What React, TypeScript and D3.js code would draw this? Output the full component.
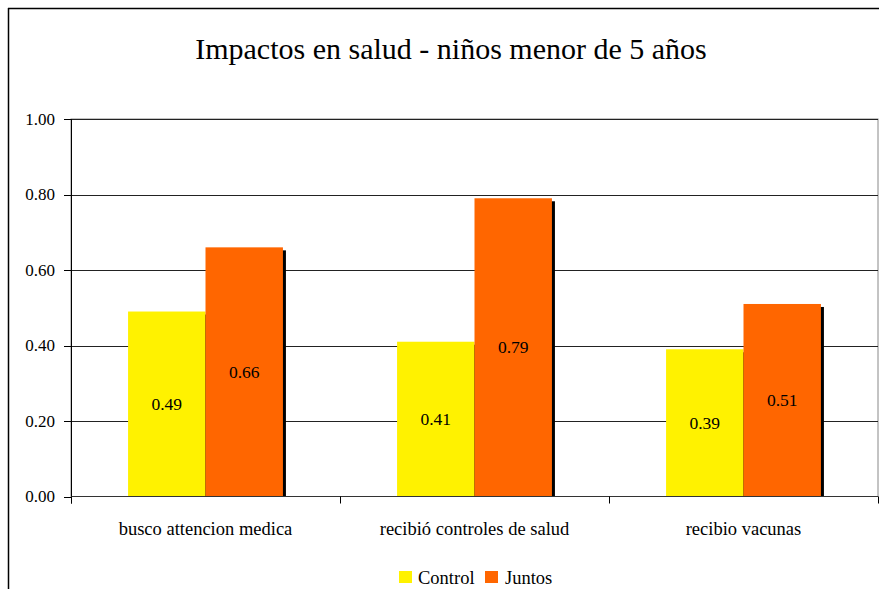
import React, { useEffect } from "react";
import * as d3 from "d3";

const categories = ["busco attencion medica", "recibió controles de salud", "recibio vacunas"];
const seriesNames = ["Control", "Juntos"];
const controlValues = [0.49, 0.41, 0.39];
const juntosValues = [0.66, 0.79, 0.51];
const yTicks = [0, 0.2, 0.4, 0.6, 0.8, 1.0];
const colors = ["#FFF200", "#FF6600"];

const W = 879;
const H = 589;
const FONT = "Liberation Serif";

export default function App() {
  useEffect(() => {
    document.body.style.overflow = "hidden";
  }, []);
  const left = 71, right = 878, top = 119, bottom = 496.5;
  const x0 = d3.scaleBand<string>().domain(categories).range([left, right]).paddingInner(0).paddingOuter(0);
  const bw = x0.bandwidth();
  const x1 = d3.scaleBand<string>().domain(seriesNames).range([0, bw]).paddingOuter(0.737).paddingInner(0);
  const y = d3.scaleLinear().domain([0, 1]).range([bottom, top]);
  const series = [controlValues, juntosValues];
  const ts = { fontFamily: FONT };

  return (
    <svg width={W} height={H} style={{ position: "absolute", left: 0, top: 0, background: "#fff", overflow: "hidden" }}>
      <line x1={8.5} x2={8.5} y1={8} y2={H} stroke="#000" strokeWidth={1.5} />
      <line x1={8} x2={W} y1={8.5} y2={8.5} stroke="#000" strokeWidth={1.5} />
      <text x={451} y={59} textAnchor="middle" style={ts} fontSize={30} fill="#000">
        Impactos en salud - niños menor de 5 años
      </text>
      <rect x={left} y={top} width={right - left} height={bottom - top} fill="none" stroke="#888" strokeWidth={1} />
      {yTicks.map((t) => (
        <g key={t}>
          {t > 0 && <line x1={left} x2={right} y1={Math.round(y(t)) + 0.5} y2={Math.round(y(t)) + 0.5} stroke="#222" strokeWidth={1} />}
          <line x1={64} x2={left} y1={Math.round(y(t)) + 0.5} y2={Math.round(y(t)) + 0.5} stroke="#000" strokeWidth={1} />
          <text x={55} y={y(t) + 5.5} textAnchor="end" style={ts} fontSize={17} fill="#000">
            {t.toFixed(2)}
          </text>
        </g>
      ))}
      {categories.map((c, ci) => (
        <g key={c}>
          {series.map((vals, si) => {
            const bx = (x0(c) as number) + (x1(seriesNames[si]) as number);
            const by = y(vals[ci]);
            return <rect key={si} x={bx + 3} y={by + 3} width={x1.bandwidth()} height={bottom - by - 3} fill="#000" />;
          })}
          {series.map((vals, si) => {
            const bx = (x0(c) as number) + (x1(seriesNames[si]) as number);
            const by = y(vals[ci]);
            return (
              <g key={si}>
                <rect x={bx} y={by} width={x1.bandwidth()} height={bottom - by} fill={colors[si]} />
                <text x={bx + x1.bandwidth() / 2} y={(by + bottom) / 2 + 6} textAnchor="middle" style={ts} fontSize={17.5} fill="#000">
                  {vals[ci].toFixed(2)}
                </text>
              </g>
            );
          })}
        </g>
      ))}
      <line x1={left + 0.5} x2={left + 0.5} y1={top} y2={bottom + 7} stroke="#000" strokeWidth={1} />
      <line x1={left} x2={right} y1={bottom} y2={bottom} stroke="#333" strokeWidth={1.2} />
      {[...categories.map((c) => x0(c) as number), right].map((xv, i) => (
        <line key={i} x1={Math.round(xv) + 0.5} x2={Math.round(xv) + 0.5} y1={bottom} y2={bottom + 7} stroke="#000" strokeWidth={1} />
      ))}
      {categories.map((c) => (
        <text key={c} x={(x0(c) as number) + bw / 2} y={535} textAnchor="middle" style={ts} fontSize={18.5} fill="#000">
          {c}
        </text>
      ))}
      <rect x={399} y={571} width={13} height={12} fill={colors[0]} />
      <text x={418} y={584} style={ts} fontSize={18.5} fill="#000">{seriesNames[0]}</text>
      <rect x={485} y={571} width={13} height={12} fill={colors[1]} />
      <text x={505} y={584} style={ts} fontSize={18.5} fill="#000">{seriesNames[1]}</text>
    </svg>
  );
}
